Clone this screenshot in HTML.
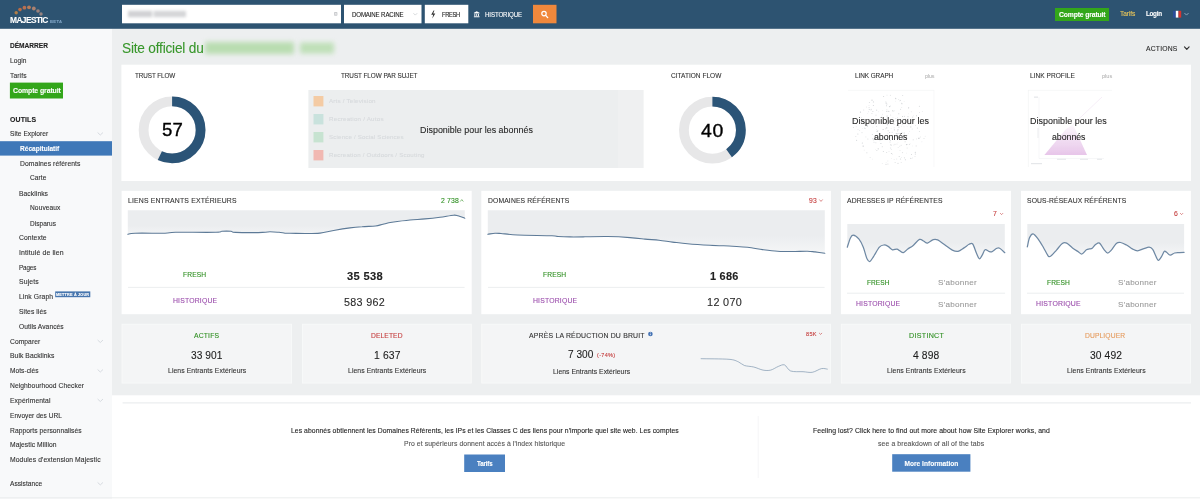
<!DOCTYPE html>
<html lang="fr"><head><meta charset="utf-8"><title>Majestic - Site Explorer</title>
<style>
html,body{margin:0;padding:0}
body{width:1200px;height:499px;overflow:hidden;position:relative;background:#fff;font-family:"Liberation Sans", sans-serif;}
.t{position:absolute;white-space:pre;transform-origin:0 50%;-webkit-text-stroke:0.1px currentColor}
#tx{position:absolute;left:0;top:0;width:1200px;height:499px;will-change:transform}
.b{position:absolute}
svg{position:absolute;left:0;top:0}
</style></head><body>
<svg width="1200" height="499" viewBox="0 0 1200 499"><defs><filter id="bl" x="-20%" y="-100%" width="140%" height="300%"><feGaussianBlur stdDeviation="2.4"/></filter><filter id="bl2" x="-20%" y="-100%" width="140%" height="300%"><feGaussianBlur stdDeviation="1.7"/></filter><filter id="bl3"><feGaussianBlur stdDeviation="0.5"/></filter></defs><rect x="0" y="0" width="1200.00" height="499.00" fill="#fff" /><rect x="112" y="28.5" width="1088.00" height="366.80" fill="#edeff0" /><rect x="0" y="28.5" width="112.00" height="470.50" fill="#f8f9fa" /><rect x="0" y="0" width="1200.00" height="28.80" fill="#2d5371" /><rect x="122" y="4.8" width="219.00" height="18.50" fill="#fff" /><rect x="344" y="4.8" width="77.50" height="18.50" fill="#fff" /><rect x="424.8" y="4.8" width="43.50" height="18.50" fill="#fff" /><rect x="533" y="4.8" width="23.50" height="18.50" fill="#f0883c" /><g filter="url(#bl2)" opacity="0.42"><rect x="128" y="10.8" width="24.00" height="6.40" fill="#8f9197" /><rect x="153.5" y="10.8" width="32.50" height="6.40" fill="#9a9ca2" /></g><rect x="334" y="12" width="3.4" height="3.8" rx="0.8" fill="#c9cbce"/><path d="M334.9,13 l1.6,1.8 m0,-1.8 l-1.6,1.8" stroke="#fff" stroke-width="0.5" fill="none"/><path d="M413.70,13.50 L415.30,15.10 L416.90,13.50" fill="none" stroke="#c4c8cc" stroke-width="0.7" stroke-linecap="round" stroke-linejoin="round"/><path d="M433.6,10.6 l-2.4,4.2 h2 l-0.9,3.6 3,-4.8 h-2.1 l1.2,-3 z" fill="#333"/><path d="M476.7,11.2 l2.8,1.6 v0.6 h-5.6 v-0.6 z M474.4,13.9 h0.9 v2 h-0.9z M476.25,13.9 h0.9 v2 h-0.9z M478.1,13.9 h0.9 v2 h-0.9z M473.9,16.3 h5.6 v0.9 h-5.6z" fill="#fff"/><circle cx="544" cy="13.6" r="2.2" fill="none" stroke="#fff" stroke-width="1.2"/><path d="M545.7,15.4 l2,2.2" stroke="#fff" stroke-width="1.4" stroke-linecap="round"/><rect x="1055" y="8" width="54.00" height="13.00" fill="#33a61a" /><rect x="1173" y="10.8" width="2.80" height="6.80" fill="#2b4c9a" /><rect x="1175.8" y="10.8" width="2.70" height="6.80" fill="#fff" /><rect x="1178.5" y="10.8" width="2.70" height="6.80" fill="#d8352f" /><path d="M1184.70,13.30 L1186.50,15.10 L1188.30,13.30" fill="none" stroke="#9fb6cc" stroke-width="0.8" stroke-linecap="round" stroke-linejoin="round"/><circle cx="16.2" cy="12.8" r="1.7" fill="#c9853f" opacity="0.85"/><circle cx="20" cy="9.6" r="1.8" fill="#d2703c" opacity="0.85"/><circle cx="24.4" cy="7.7" r="1.9" fill="#d2744a" opacity="0.85"/><circle cx="29" cy="7.3" r="1.9" fill="#d08255" opacity="0.85"/><circle cx="33.8" cy="8.5" r="1.9" fill="#c28a70" opacity="0.85"/><circle cx="38" cy="11" r="1.8" fill="#b08a7c" opacity="0.85"/><circle cx="41" cy="14" r="1.7" fill="#a98c84" opacity="0.85"/><rect x="9.9" y="82.6" width="53.10" height="15.90" fill="#33a61a" /><rect x="0" y="141.2" width="112.00" height="14.40" fill="#3f78b8" /><rect x="55.2" y="291.4" width="35.10" height="5.80" fill="#4776ae" /><path d="M97.90,132.80 L100.30,135.00 L102.70,132.80" fill="none" stroke="#d3d7dc" stroke-width="0.9" stroke-linecap="round" stroke-linejoin="round"/><path d="M97.90,340.30 L100.30,342.50 L102.70,340.30" fill="none" stroke="#d3d7dc" stroke-width="0.9" stroke-linecap="round" stroke-linejoin="round"/><path d="M97.90,369.80 L100.30,372.00 L102.70,369.80" fill="none" stroke="#d3d7dc" stroke-width="0.9" stroke-linecap="round" stroke-linejoin="round"/><path d="M97.90,399.30 L100.30,401.50 L102.70,399.30" fill="none" stroke="#d3d7dc" stroke-width="0.9" stroke-linecap="round" stroke-linejoin="round"/><path d="M97.90,482.70 L100.30,484.90 L102.70,482.70" fill="none" stroke="#d3d7dc" stroke-width="0.9" stroke-linecap="round" stroke-linejoin="round"/><g filter="url(#bl)" opacity="0.55"><rect x="205" y="42" width="89.00" height="12.00" fill="#8fce7d" /><rect x="300" y="42.5" width="34.00" height="11.00" fill="#9ad38a" /></g><path d="M1184.50,46.85 L1186.80,49.35 L1189.10,46.85" fill="none" stroke="#333" stroke-width="1.2" stroke-linecap="round" stroke-linejoin="round"/><rect x="121.4" y="64.7" width="1069.60" height="116.30" fill="#fff" /><circle cx="172.1" cy="129.9" r="28.5" fill="none" stroke="#e7e7e8" stroke-width="9.8"/><circle cx="172.1" cy="129.9" r="28.5" fill="none" stroke="#2b5477" stroke-width="9.8" stroke-dasharray="102.07 179.07" transform="rotate(-90 172.1 129.9)"/><circle cx="712.4" cy="130.1" r="28.5" fill="none" stroke="#e7e7e8" stroke-width="9.8"/><circle cx="712.4" cy="130.1" r="28.5" fill="none" stroke="#2b5477" stroke-width="9.8" stroke-dasharray="71.63 179.07" transform="rotate(-90 712.4 130.1)"/><rect x="308.4" y="90" width="309.60" height="78.00" fill="#eceeef" /><rect x="618" y="90" width="25.60" height="78.00" fill="#eff0f1" /><rect x="313.5" y="96" width="9.90" height="10.40" fill="#f4cba4" /><rect x="313.5" y="114" width="9.90" height="10.40" fill="#c9e2dd" /><rect x="313.5" y="132" width="9.90" height="10.40" fill="#c7e3d1" /><rect x="313.5" y="150" width="9.90" height="10.40" fill="#f1b8b2" /><circle cx="885.6" cy="139.3" r="0.6" fill="#9aa0a6" opacity="0.26"/><circle cx="895.0" cy="121.1" r="0.6" fill="#9aa0a6" opacity="0.27"/><circle cx="885.7" cy="128.8" r="0.5" fill="#9aa0a6" opacity="0.38"/><circle cx="892.6" cy="154.1" r="0.4" fill="#9aa0a6" opacity="0.50"/><circle cx="902.0" cy="139.3" r="0.6" fill="#9aa0a6" opacity="0.42"/><circle cx="916.4" cy="138.9" r="0.4" fill="#9aa0a6" opacity="0.54"/><circle cx="924.0" cy="138.5" r="0.5" fill="#9aa0a6" opacity="0.38"/><circle cx="864.9" cy="122.5" r="0.6" fill="#9aa0a6" opacity="0.49"/><circle cx="902.5" cy="152.6" r="0.6" fill="#9aa0a6" opacity="0.31"/><circle cx="916.2" cy="145.9" r="0.6" fill="#9aa0a6" opacity="0.27"/><circle cx="899.2" cy="156.5" r="0.5" fill="#9aa0a6" opacity="0.48"/><circle cx="855.8" cy="136.4" r="0.5" fill="#9aa0a6" opacity="0.34"/><circle cx="899.4" cy="101.1" r="0.4" fill="#9aa0a6" opacity="0.27"/><circle cx="883.3" cy="151.4" r="0.5" fill="#9aa0a6" opacity="0.47"/><circle cx="882.2" cy="163.6" r="0.4" fill="#9aa0a6" opacity="0.40"/><circle cx="901.1" cy="145.3" r="0.5" fill="#9aa0a6" opacity="0.38"/><circle cx="898.9" cy="127.2" r="0.6" fill="#9aa0a6" opacity="0.42"/><circle cx="904.4" cy="116.3" r="0.6" fill="#9aa0a6" opacity="0.36"/><circle cx="858.0" cy="129.7" r="0.4" fill="#9aa0a6" opacity="0.50"/><circle cx="913.7" cy="121.2" r="0.6" fill="#9aa0a6" opacity="0.27"/><circle cx="888.8" cy="111.3" r="0.6" fill="#9aa0a6" opacity="0.55"/><circle cx="898.8" cy="113.8" r="0.5" fill="#9aa0a6" opacity="0.52"/><circle cx="870.1" cy="157.5" r="0.5" fill="#9aa0a6" opacity="0.30"/><circle cx="896.1" cy="133.4" r="0.5" fill="#9aa0a6" opacity="0.29"/><circle cx="891.3" cy="149.5" r="0.5" fill="#9aa0a6" opacity="0.27"/><circle cx="865.9" cy="136.9" r="0.4" fill="#9aa0a6" opacity="0.50"/><circle cx="902.5" cy="116.4" r="0.5" fill="#9aa0a6" opacity="0.55"/><circle cx="882.3" cy="110.6" r="0.4" fill="#9aa0a6" opacity="0.30"/><circle cx="898.0" cy="142.4" r="0.4" fill="#9aa0a6" opacity="0.25"/><circle cx="897.6" cy="117.7" r="0.5" fill="#9aa0a6" opacity="0.25"/><circle cx="872.8" cy="138.7" r="0.6" fill="#9aa0a6" opacity="0.35"/><circle cx="915.3" cy="152.3" r="0.6" fill="#9aa0a6" opacity="0.45"/><circle cx="889.5" cy="106.6" r="0.6" fill="#9aa0a6" opacity="0.49"/><circle cx="874.0" cy="142.0" r="0.4" fill="#9aa0a6" opacity="0.39"/><circle cx="879.7" cy="136.8" r="0.4" fill="#9aa0a6" opacity="0.38"/><circle cx="912.5" cy="145.9" r="0.4" fill="#9aa0a6" opacity="0.25"/><circle cx="896.6" cy="136.4" r="0.5" fill="#9aa0a6" opacity="0.43"/><circle cx="904.3" cy="135.0" r="0.5" fill="#9aa0a6" opacity="0.29"/><circle cx="890.7" cy="148.1" r="0.5" fill="#9aa0a6" opacity="0.39"/><circle cx="909.4" cy="144.5" r="0.5" fill="#9aa0a6" opacity="0.39"/><circle cx="886.5" cy="139.4" r="0.6" fill="#9aa0a6" opacity="0.35"/><circle cx="887.9" cy="161.0" r="0.4" fill="#9aa0a6" opacity="0.40"/><circle cx="901.2" cy="162.6" r="0.5" fill="#9aa0a6" opacity="0.29"/><circle cx="886.8" cy="127.9" r="0.6" fill="#9aa0a6" opacity="0.34"/><circle cx="885.4" cy="122.3" r="0.5" fill="#9aa0a6" opacity="0.41"/><circle cx="908.0" cy="118.4" r="0.4" fill="#9aa0a6" opacity="0.41"/><circle cx="894.5" cy="110.8" r="0.4" fill="#9aa0a6" opacity="0.43"/><circle cx="898.7" cy="99.4" r="0.4" fill="#9aa0a6" opacity="0.49"/><circle cx="904.1" cy="101.7" r="0.4" fill="#9aa0a6" opacity="0.31"/><circle cx="859.7" cy="130.4" r="0.4" fill="#9aa0a6" opacity="0.49"/><circle cx="877.1" cy="131.3" r="0.6" fill="#9aa0a6" opacity="0.54"/><circle cx="856.6" cy="140.3" r="0.5" fill="#9aa0a6" opacity="0.54"/><circle cx="880.9" cy="139.9" r="0.4" fill="#9aa0a6" opacity="0.39"/><circle cx="878.2" cy="148.8" r="0.6" fill="#9aa0a6" opacity="0.50"/><circle cx="862.0" cy="132.6" r="0.6" fill="#9aa0a6" opacity="0.28"/><circle cx="872.0" cy="100.2" r="0.6" fill="#9aa0a6" opacity="0.48"/><circle cx="877.7" cy="130.8" r="0.6" fill="#9aa0a6" opacity="0.35"/><circle cx="902.7" cy="95.4" r="0.5" fill="#9aa0a6" opacity="0.39"/><circle cx="890.6" cy="120.8" r="0.4" fill="#9aa0a6" opacity="0.30"/><circle cx="899.5" cy="137.3" r="0.5" fill="#9aa0a6" opacity="0.49"/><circle cx="911.5" cy="154.5" r="0.5" fill="#9aa0a6" opacity="0.45"/><circle cx="875.4" cy="149.3" r="0.4" fill="#9aa0a6" opacity="0.26"/><circle cx="900.5" cy="100.7" r="0.4" fill="#9aa0a6" opacity="0.41"/><circle cx="911.9" cy="120.2" r="0.4" fill="#9aa0a6" opacity="0.50"/><circle cx="895.0" cy="144.3" r="0.5" fill="#9aa0a6" opacity="0.40"/><circle cx="892.7" cy="110.7" r="0.6" fill="#9aa0a6" opacity="0.38"/><circle cx="915.3" cy="154.0" r="0.5" fill="#9aa0a6" opacity="0.52"/><circle cx="873.5" cy="101.9" r="0.6" fill="#9aa0a6" opacity="0.38"/><circle cx="912.7" cy="117.2" r="0.6" fill="#9aa0a6" opacity="0.30"/><circle cx="856.2" cy="126.8" r="0.4" fill="#9aa0a6" opacity="0.43"/><circle cx="893.0" cy="117.6" r="0.4" fill="#9aa0a6" opacity="0.39"/><circle cx="886.9" cy="104.0" r="0.5" fill="#9aa0a6" opacity="0.45"/><circle cx="867.0" cy="124.5" r="0.4" fill="#9aa0a6" opacity="0.51"/><circle cx="904.1" cy="133.7" r="0.4" fill="#9aa0a6" opacity="0.48"/><circle cx="864.3" cy="127.8" r="0.4" fill="#9aa0a6" opacity="0.38"/><circle cx="871.9" cy="113.5" r="0.6" fill="#9aa0a6" opacity="0.31"/><circle cx="886.7" cy="152.6" r="0.5" fill="#9aa0a6" opacity="0.40"/><circle cx="891.4" cy="153.4" r="0.5" fill="#9aa0a6" opacity="0.53"/><circle cx="902.3" cy="120.4" r="0.5" fill="#9aa0a6" opacity="0.29"/><circle cx="907.7" cy="144.3" r="0.4" fill="#9aa0a6" opacity="0.45"/><circle cx="877.6" cy="135.2" r="0.5" fill="#9aa0a6" opacity="0.49"/><circle cx="900.8" cy="121.9" r="0.6" fill="#9aa0a6" opacity="0.44"/><circle cx="879.9" cy="140.8" r="0.4" fill="#9aa0a6" opacity="0.54"/><circle cx="898.0" cy="163.3" r="0.5" fill="#9aa0a6" opacity="0.52"/><circle cx="906.5" cy="153.1" r="0.4" fill="#9aa0a6" opacity="0.30"/><circle cx="867.9" cy="139.1" r="0.5" fill="#9aa0a6" opacity="0.38"/><circle cx="885.4" cy="135.8" r="0.5" fill="#9aa0a6" opacity="0.26"/><circle cx="869.2" cy="121.7" r="0.4" fill="#9aa0a6" opacity="0.37"/><circle cx="872.9" cy="127.1" r="0.4" fill="#9aa0a6" opacity="0.28"/><circle cx="904.6" cy="121.7" r="0.4" fill="#9aa0a6" opacity="0.28"/><circle cx="886.1" cy="162.6" r="0.4" fill="#9aa0a6" opacity="0.33"/><circle cx="906.5" cy="144.6" r="0.6" fill="#9aa0a6" opacity="0.50"/><circle cx="890.3" cy="140.5" r="0.6" fill="#9aa0a6" opacity="0.42"/><circle cx="888.3" cy="120.9" r="0.4" fill="#9aa0a6" opacity="0.49"/><circle cx="905.4" cy="159.8" r="0.5" fill="#9aa0a6" opacity="0.53"/><circle cx="869.0" cy="105.4" r="0.4" fill="#9aa0a6" opacity="0.43"/><circle cx="893.9" cy="145.0" r="0.4" fill="#9aa0a6" opacity="0.39"/><circle cx="876.9" cy="150.4" r="0.5" fill="#9aa0a6" opacity="0.44"/><circle cx="920.6" cy="136.9" r="0.4" fill="#9aa0a6" opacity="0.54"/><circle cx="890.0" cy="141.9" r="0.5" fill="#9aa0a6" opacity="0.44"/><circle cx="876.6" cy="126.3" r="0.5" fill="#9aa0a6" opacity="0.40"/><circle cx="899.8" cy="146.2" r="0.4" fill="#9aa0a6" opacity="0.55"/><circle cx="894.4" cy="129.8" r="0.6" fill="#9aa0a6" opacity="0.42"/><circle cx="900.0" cy="150.4" r="0.5" fill="#9aa0a6" opacity="0.28"/><circle cx="900.6" cy="109.2" r="0.5" fill="#9aa0a6" opacity="0.41"/><circle cx="919.4" cy="106.2" r="0.5" fill="#9aa0a6" opacity="0.46"/><circle cx="910.8" cy="126.9" r="0.6" fill="#9aa0a6" opacity="0.47"/><circle cx="915.0" cy="156.5" r="0.4" fill="#9aa0a6" opacity="0.50"/><circle cx="919.4" cy="131.4" r="0.5" fill="#9aa0a6" opacity="0.38"/><circle cx="918.8" cy="138.6" r="0.5" fill="#9aa0a6" opacity="0.51"/><circle cx="882.5" cy="114.2" r="0.4" fill="#9aa0a6" opacity="0.46"/><circle cx="904.2" cy="132.7" r="0.5" fill="#9aa0a6" opacity="0.38"/><circle cx="887.9" cy="164.0" r="0.6" fill="#9aa0a6" opacity="0.35"/><circle cx="925.2" cy="136.2" r="0.4" fill="#9aa0a6" opacity="0.36"/><circle cx="912.2" cy="129.1" r="0.5" fill="#9aa0a6" opacity="0.33"/><circle cx="881.9" cy="116.0" r="0.4" fill="#9aa0a6" opacity="0.28"/><circle cx="895.8" cy="118.7" r="0.6" fill="#9aa0a6" opacity="0.26"/><circle cx="909.3" cy="131.5" r="0.4" fill="#9aa0a6" opacity="0.28"/><circle cx="924.2" cy="120.4" r="0.4" fill="#9aa0a6" opacity="0.45"/><circle cx="883.6" cy="96.4" r="0.5" fill="#9aa0a6" opacity="0.48"/><circle cx="886.5" cy="105.8" r="0.5" fill="#9aa0a6" opacity="0.47"/><circle cx="887.4" cy="124.7" r="0.6" fill="#9aa0a6" opacity="0.52"/><circle cx="869.1" cy="107.6" r="0.6" fill="#9aa0a6" opacity="0.29"/><circle cx="866.2" cy="125.4" r="0.4" fill="#9aa0a6" opacity="0.50"/><circle cx="860.5" cy="112.1" r="0.6" fill="#9aa0a6" opacity="0.54"/><circle cx="885.6" cy="122.6" r="0.4" fill="#9aa0a6" opacity="0.29"/><circle cx="884.7" cy="136.1" r="0.5" fill="#9aa0a6" opacity="0.42"/><circle cx="871.2" cy="109.4" r="0.6" fill="#9aa0a6" opacity="0.32"/><circle cx="889.0" cy="151.4" r="0.4" fill="#9aa0a6" opacity="0.47"/><circle cx="865.0" cy="128.5" r="0.6" fill="#9aa0a6" opacity="0.41"/><circle cx="890.4" cy="106.0" r="0.4" fill="#9aa0a6" opacity="0.50"/><circle cx="894.1" cy="159.3" r="0.4" fill="#9aa0a6" opacity="0.47"/><circle cx="915.5" cy="125.4" r="0.5" fill="#9aa0a6" opacity="0.27"/><circle cx="906.1" cy="119.9" r="0.4" fill="#9aa0a6" opacity="0.44"/><circle cx="885.9" cy="122.9" r="0.4" fill="#9aa0a6" opacity="0.35"/><circle cx="873.4" cy="105.5" r="0.6" fill="#9aa0a6" opacity="0.42"/><circle cx="898.0" cy="129.5" r="0.5" fill="#9aa0a6" opacity="0.54"/><circle cx="903.3" cy="137.4" r="0.5" fill="#9aa0a6" opacity="0.34"/><circle cx="867.3" cy="126.6" r="0.5" fill="#9aa0a6" opacity="0.48"/><circle cx="917.4" cy="127.9" r="0.5" fill="#9aa0a6" opacity="0.54"/><circle cx="894.1" cy="127.8" r="0.5" fill="#9aa0a6" opacity="0.27"/><circle cx="853.4" cy="127.5" r="0.5" fill="#9aa0a6" opacity="0.37"/><circle cx="922.3" cy="111.7" r="0.4" fill="#9aa0a6" opacity="0.42"/><circle cx="907.1" cy="148.0" r="0.5" fill="#9aa0a6" opacity="0.29"/><circle cx="901.8" cy="107.3" r="0.4" fill="#9aa0a6" opacity="0.46"/><circle cx="895.1" cy="162.5" r="0.5" fill="#9aa0a6" opacity="0.37"/><circle cx="910.8" cy="158.4" r="0.6" fill="#9aa0a6" opacity="0.39"/><circle cx="887.3" cy="139.5" r="0.5" fill="#9aa0a6" opacity="0.36"/><circle cx="905.1" cy="141.8" r="0.5" fill="#9aa0a6" opacity="0.48"/><circle cx="896.6" cy="120.5" r="0.4" fill="#9aa0a6" opacity="0.46"/><circle cx="905.6" cy="119.1" r="0.5" fill="#9aa0a6" opacity="0.27"/><circle cx="864.2" cy="150.1" r="0.4" fill="#9aa0a6" opacity="0.36"/><circle cx="875.3" cy="136.3" r="0.4" fill="#9aa0a6" opacity="0.33"/><circle cx="919.0" cy="138.0" r="0.6" fill="#9aa0a6" opacity="0.53"/><circle cx="891.1" cy="145.3" r="0.6" fill="#9aa0a6" opacity="0.34"/><circle cx="895.7" cy="98.2" r="0.5" fill="#9aa0a6" opacity="0.52"/><circle cx="901.9" cy="103.7" r="0.6" fill="#9aa0a6" opacity="0.41"/><circle cx="889.8" cy="123.2" r="0.6" fill="#9aa0a6" opacity="0.37"/><circle cx="882.3" cy="121.7" r="0.5" fill="#9aa0a6" opacity="0.40"/><circle cx="913.5" cy="115.8" r="0.4" fill="#9aa0a6" opacity="0.39"/><circle cx="880.9" cy="143.5" r="0.6" fill="#9aa0a6" opacity="0.47"/><circle cx="878.4" cy="111.8" r="0.4" fill="#9aa0a6" opacity="0.34"/><circle cx="870.8" cy="121.7" r="0.4" fill="#9aa0a6" opacity="0.44"/><circle cx="913.2" cy="139.8" r="0.5" fill="#9aa0a6" opacity="0.42"/><circle cx="872.3" cy="134.4" r="0.5" fill="#9aa0a6" opacity="0.38"/><circle cx="875.5" cy="124.4" r="0.4" fill="#9aa0a6" opacity="0.35"/><circle cx="904.5" cy="137.3" r="0.5" fill="#9aa0a6" opacity="0.49"/><circle cx="892.1" cy="132.3" r="0.5" fill="#9aa0a6" opacity="0.36"/><circle cx="890.6" cy="114.9" r="0.5" fill="#9aa0a6" opacity="0.35"/><circle cx="907.2" cy="135.3" r="0.5" fill="#9aa0a6" opacity="0.29"/><circle cx="862.4" cy="128.4" r="0.4" fill="#9aa0a6" opacity="0.28"/><circle cx="908.0" cy="116.7" r="0.6" fill="#9aa0a6" opacity="0.38"/><circle cx="923.8" cy="119.7" r="0.4" fill="#9aa0a6" opacity="0.29"/><circle cx="862.3" cy="142.9" r="0.5" fill="#9aa0a6" opacity="0.54"/><circle cx="883.1" cy="129.5" r="0.6" fill="#9aa0a6" opacity="0.51"/><circle cx="907.1" cy="126.3" r="0.4" fill="#9aa0a6" opacity="0.32"/><circle cx="912.4" cy="157.9" r="0.4" fill="#9aa0a6" opacity="0.53"/><circle cx="885.9" cy="101.7" r="0.5" fill="#9aa0a6" opacity="0.28"/><circle cx="891.1" cy="128.3" r="0.4" fill="#9aa0a6" opacity="0.32"/><circle cx="916.5" cy="115.7" r="0.5" fill="#9aa0a6" opacity="0.54"/><circle cx="872.9" cy="111.5" r="0.5" fill="#9aa0a6" opacity="0.46"/><circle cx="896.9" cy="133.7" r="0.6" fill="#9aa0a6" opacity="0.53"/><circle cx="897.0" cy="144.0" r="0.6" fill="#9aa0a6" opacity="0.25"/><circle cx="854.3" cy="120.6" r="0.5" fill="#9aa0a6" opacity="0.54"/><circle cx="869.4" cy="102.6" r="0.5" fill="#9aa0a6" opacity="0.41"/><circle cx="886.7" cy="127.7" r="0.5" fill="#9aa0a6" opacity="0.46"/><circle cx="889.7" cy="132.4" r="0.5" fill="#9aa0a6" opacity="0.52"/><circle cx="886.0" cy="122.6" r="0.4" fill="#9aa0a6" opacity="0.45"/><circle cx="904.8" cy="122.3" r="0.4" fill="#9aa0a6" opacity="0.46"/><circle cx="886.9" cy="109.8" r="0.5" fill="#9aa0a6" opacity="0.31"/><circle cx="900.2" cy="100.3" r="0.6" fill="#9aa0a6" opacity="0.27"/><circle cx="876.6" cy="129.4" r="0.4" fill="#9aa0a6" opacity="0.32"/><circle cx="896.7" cy="159.1" r="0.5" fill="#9aa0a6" opacity="0.28"/><circle cx="871.0" cy="110.2" r="0.4" fill="#9aa0a6" opacity="0.40"/><circle cx="896.7" cy="125.6" r="0.6" fill="#9aa0a6" opacity="0.29"/><circle cx="879.3" cy="137.8" r="0.6" fill="#9aa0a6" opacity="0.29"/><circle cx="897.6" cy="131.1" r="0.5" fill="#9aa0a6" opacity="0.38"/><circle cx="886.5" cy="111.5" r="0.4" fill="#9aa0a6" opacity="0.55"/><circle cx="908.6" cy="121.3" r="0.4" fill="#9aa0a6" opacity="0.45"/><circle cx="867.3" cy="125.5" r="0.5" fill="#9aa0a6" opacity="0.45"/><circle cx="875.9" cy="142.8" r="0.5" fill="#9aa0a6" opacity="0.38"/><circle cx="897.3" cy="133.9" r="0.4" fill="#9aa0a6" opacity="0.36"/><circle cx="901.4" cy="126.2" r="0.4" fill="#9aa0a6" opacity="0.36"/><circle cx="893.2" cy="111.3" r="0.5" fill="#9aa0a6" opacity="0.28"/><circle cx="887.1" cy="116.0" r="0.6" fill="#9aa0a6" opacity="0.53"/><circle cx="898.2" cy="147.4" r="0.5" fill="#9aa0a6" opacity="0.26"/><circle cx="862.7" cy="145.9" r="0.5" fill="#9aa0a6" opacity="0.26"/><circle cx="898.0" cy="130.5" r="0.4" fill="#9aa0a6" opacity="0.33"/><circle cx="890.4" cy="95.2" r="0.5" fill="#9aa0a6" opacity="0.36"/><circle cx="872.3" cy="159.1" r="0.4" fill="#9aa0a6" opacity="0.33"/><circle cx="887.1" cy="111.3" r="0.5" fill="#9aa0a6" opacity="0.34"/><circle cx="886.1" cy="103.0" r="0.6" fill="#9aa0a6" opacity="0.53"/><circle cx="921.9" cy="141.8" r="0.4" fill="#9aa0a6" opacity="0.39"/><circle cx="926.4" cy="119.6" r="0.5" fill="#9aa0a6" opacity="0.49"/><circle cx="919.6" cy="112.5" r="0.4" fill="#9aa0a6" opacity="0.53"/><circle cx="904.5" cy="157.8" r="0.6" fill="#9aa0a6" opacity="0.34"/><circle cx="886.7" cy="118.2" r="0.4" fill="#9aa0a6" opacity="0.35"/><circle cx="882.3" cy="146.7" r="0.6" fill="#9aa0a6" opacity="0.27"/><circle cx="901.4" cy="157.7" r="0.4" fill="#9aa0a6" opacity="0.37"/><circle cx="876.6" cy="110.2" r="0.6" fill="#9aa0a6" opacity="0.35"/><circle cx="925.8" cy="124.9" r="0.4" fill="#9aa0a6" opacity="0.33"/><circle cx="899.0" cy="133.5" r="0.5" fill="#9aa0a6" opacity="0.55"/><circle cx="904.0" cy="126.8" r="0.4" fill="#9aa0a6" opacity="0.38"/><circle cx="869.3" cy="109.5" r="0.6" fill="#9aa0a6" opacity="0.41"/><circle cx="895.8" cy="98.8" r="0.5" fill="#9aa0a6" opacity="0.34"/><circle cx="871.9" cy="120.9" r="0.6" fill="#9aa0a6" opacity="0.33"/><circle cx="878.2" cy="133.9" r="0.4" fill="#9aa0a6" opacity="0.30"/><circle cx="911.3" cy="111.8" r="0.5" fill="#9aa0a6" opacity="0.27"/><circle cx="890.8" cy="144.5" r="0.6" fill="#9aa0a6" opacity="0.32"/><circle cx="901.5" cy="103.0" r="0.4" fill="#9aa0a6" opacity="0.28"/><circle cx="857.9" cy="134.0" r="0.5" fill="#9aa0a6" opacity="0.52"/><circle cx="908.5" cy="133.3" r="0.4" fill="#9aa0a6" opacity="0.27"/><circle cx="863.8" cy="110.0" r="0.4" fill="#9aa0a6" opacity="0.53"/><circle cx="866.9" cy="152.8" r="0.5" fill="#9aa0a6" opacity="0.43"/><circle cx="895.6" cy="101.2" r="0.4" fill="#9aa0a6" opacity="0.28"/><circle cx="867.6" cy="113.7" r="0.4" fill="#9aa0a6" opacity="0.26"/><circle cx="887.9" cy="133.7" r="0.5" fill="#9aa0a6" opacity="0.26"/><circle cx="887.0" cy="95.1" r="0.4" fill="#9aa0a6" opacity="0.50"/><circle cx="873.4" cy="139.8" r="0.6" fill="#9aa0a6" opacity="0.34"/><circle cx="900.5" cy="159.0" r="0.6" fill="#9aa0a6" opacity="0.40"/><circle cx="863.4" cy="146.1" r="0.6" fill="#9aa0a6" opacity="0.42"/><circle cx="885.2" cy="122.4" r="0.4" fill="#9aa0a6" opacity="0.37"/><circle cx="886.0" cy="164.4" r="0.6" fill="#9aa0a6" opacity="0.34"/><circle cx="909.0" cy="123.8" r="0.6" fill="#9aa0a6" opacity="0.52"/><circle cx="888.1" cy="130.7" r="0.5" fill="#9aa0a6" opacity="0.44"/><circle cx="874.0" cy="142.3" r="0.4" fill="#9aa0a6" opacity="0.38"/><circle cx="896.7" cy="137.1" r="0.4" fill="#9aa0a6" opacity="0.37"/><circle cx="908.6" cy="113.8" r="0.4" fill="#9aa0a6" opacity="0.29"/><circle cx="902.1" cy="132.6" r="0.5" fill="#9aa0a6" opacity="0.28"/><circle cx="876.0" cy="115.2" r="0.6" fill="#9aa0a6" opacity="0.30"/><circle cx="883.7" cy="138.9" r="0.4" fill="#9aa0a6" opacity="0.53"/><circle cx="910.1" cy="143.8" r="0.4" fill="#9aa0a6" opacity="0.34"/><circle cx="894.0" cy="124.3" r="0.5" fill="#9aa0a6" opacity="0.34"/><circle cx="868.5" cy="111.8" r="0.4" fill="#9aa0a6" opacity="0.52"/><circle cx="866.5" cy="107.0" r="0.4" fill="#9aa0a6" opacity="0.44"/><circle cx="908.6" cy="107.8" r="0.6" fill="#9aa0a6" opacity="0.50"/><circle cx="897.5" cy="117.6" r="0.4" fill="#9aa0a6" opacity="0.26"/><circle cx="902.5" cy="124.5" r="0.5" fill="#9aa0a6" opacity="0.29"/><circle cx="891.6" cy="158.7" r="0.4" fill="#9aa0a6" opacity="0.26"/><circle cx="861.4" cy="117.4" r="0.4" fill="#9aa0a6" opacity="0.45"/><path d="M848,90.3 H934" stroke="#f0f1f2" stroke-width="0.6"/><path d="M934,90 V167" stroke="#f3f4f5" stroke-width="0.6"/><path d="M1028,90.3 H1112" stroke="#f0f1f2" stroke-width="0.6"/><path d="M1028.4,90 V167" stroke="#f0f1f2" stroke-width="0.6"/><defs><linearGradient id="pg" x1="0" y1="1" x2="0" y2="0"><stop offset="0" stop-color="#e6c2e8" stop-opacity="0.95"/><stop offset="0.55" stop-color="#ecd2ee" stop-opacity="0.7"/><stop offset="1" stop-color="#f3e3f4" stop-opacity="0.25"/></linearGradient></defs><g filter="url(#bl3)"><path d="M1044.4,155 L1066,129 L1073,124.5 L1087,155 Z" fill="url(#pg)"/></g><path d="M1073,124.5 L1102,97" stroke="#f4eaf5" stroke-width="0.8"/><path d="M1039,97 V158.5 H1104" fill="none" stroke="#eceef0" stroke-width="0.5"/><g fill="#dfe2e5" opacity="0.8"><rect x="1034" y="96.5" width="4.00" height="1.30" fill="#dfe2e5" /><rect x="1057" y="158.8" width="9.00" height="1.00" fill="#dfe2e5" /><rect x="1080" y="158.8" width="8.00" height="1.00" fill="#dfe2e5" /><rect x="1097" y="158.8" width="5.00" height="1.00" fill="#dfe2e5" /><rect x="1031" y="163" width="11.00" height="1.20" fill="#dfe2e5" /><rect x="1037.5" y="128" width="1.00" height="10.00" fill="#e6e8ea" /></g><rect x="121.6" y="190.8" width="350.10" height="123.40" fill="#fff" /><rect x="481.3" y="190.8" width="349.60" height="123.40" fill="#fff" /><rect x="840.9" y="190.8" width="170.10" height="123.40" fill="#fff" /><rect x="1021" y="190.8" width="169.90" height="123.40" fill="#fff" /><defs><linearGradient id="ag1" gradientUnits="userSpaceOnUse" x1="0" y1="210.2" x2="0" y2="238"><stop offset="0" stop-color="#ebedef"/><stop offset="0.55" stop-color="#ebedef"/><stop offset="1" stop-color="#f6f7f8"/></linearGradient></defs><path d="M127.8,234.2 C129.0,234.1 129.0,233.4 135.0,233.2 C141.0,233.0 158.5,233.3 165.0,233.2 C171.5,233.1 167.3,232.4 175.5,232.3 C183.7,232.2 208.6,232.5 216.0,232.3 C223.4,232.1 219.6,231.4 222.0,231.2 C224.4,231.1 228.8,231.1 231.0,231.2 C233.2,231.4 230.5,232.3 235.5,232.4 C240.5,232.6 257.0,232.6 262.5,232.4 C268.0,232.3 267.4,231.7 270.0,231.7 C272.6,231.7 276.6,232.1 279.0,232.3 C281.4,232.5 283.2,233.0 285.0,233.2 C286.8,233.4 286.8,233.3 290.0,233.3 C293.2,233.3 300.2,233.5 305.0,233.5 C309.8,233.5 315.2,233.6 320.0,233.1 C324.8,232.5 330.2,231.0 335.0,230.2 C339.8,229.4 345.7,228.5 350.0,227.9 C354.3,227.4 357.9,227.1 362.0,226.8 C366.1,226.4 372.1,226.4 375.5,226.0 C378.9,225.6 380.4,224.8 383.0,224.2 C385.6,223.6 387.7,222.9 392.0,222.2 C396.3,221.6 404.7,220.5 410.0,220.0 C415.3,219.5 420.2,219.4 425.0,218.9 C429.8,218.5 435.4,217.9 440.0,217.3 C444.6,216.7 450.6,215.4 453.5,215.2 C456.4,215.0 456.2,215.3 458.0,215.8 C459.8,216.3 463.7,217.8 464.8,218.2 L464.8,210.2 L127.8,210.2 Z" fill="url(#ag1)"/><path d="M127.8,234.2 C129.0,234.1 129.0,233.4 135.0,233.2 C141.0,233.0 158.5,233.3 165.0,233.2 C171.5,233.1 167.3,232.4 175.5,232.3 C183.7,232.2 208.6,232.5 216.0,232.3 C223.4,232.1 219.6,231.4 222.0,231.2 C224.4,231.1 228.8,231.1 231.0,231.2 C233.2,231.4 230.5,232.3 235.5,232.4 C240.5,232.6 257.0,232.6 262.5,232.4 C268.0,232.3 267.4,231.7 270.0,231.7 C272.6,231.7 276.6,232.1 279.0,232.3 C281.4,232.5 283.2,233.0 285.0,233.2 C286.8,233.4 286.8,233.3 290.0,233.3 C293.2,233.3 300.2,233.5 305.0,233.5 C309.8,233.5 315.2,233.6 320.0,233.1 C324.8,232.5 330.2,231.0 335.0,230.2 C339.8,229.4 345.7,228.5 350.0,227.9 C354.3,227.4 357.9,227.1 362.0,226.8 C366.1,226.4 372.1,226.4 375.5,226.0 C378.9,225.6 380.4,224.8 383.0,224.2 C385.6,223.6 387.7,222.9 392.0,222.2 C396.3,221.6 404.7,220.5 410.0,220.0 C415.3,219.5 420.2,219.4 425.0,218.9 C429.8,218.5 435.4,217.9 440.0,217.3 C444.6,216.7 450.6,215.4 453.5,215.2 C456.4,215.0 456.2,215.3 458.0,215.8 C459.8,216.3 463.7,217.8 464.8,218.2" fill="none" stroke="#5d7a97" stroke-width="1.1" stroke-linejoin="round" stroke-linecap="round"/><defs><linearGradient id="ag2" gradientUnits="userSpaceOnUse" x1="0" y1="210.2" x2="0" y2="256"><stop offset="0" stop-color="#ebedef"/><stop offset="0.55" stop-color="#ebedef"/><stop offset="1" stop-color="#f6f7f8"/></linearGradient></defs><path d="M487.8,234.2 C489.0,234.1 492.9,233.3 495.0,233.2 C497.1,233.1 497.4,233.2 501.0,233.5 C504.6,233.8 509.3,234.6 517.5,235.0 C525.7,235.4 545.5,235.5 552.0,235.8 C558.5,236.0 555.1,236.3 558.0,236.5 C560.9,236.7 565.7,236.9 570.0,236.9 C574.3,237.0 579.0,236.9 585.0,236.8 C591.0,236.7 600.3,236.4 607.5,236.5 C614.7,236.6 624.0,237.1 630.0,237.6 C636.0,238.0 640.4,238.6 645.0,239.1 C649.6,239.5 654.6,239.8 659.0,240.2 C663.4,240.7 667.9,241.5 672.5,242.1 C677.1,242.6 681.5,243.2 687.5,243.7 C693.5,244.2 702.8,244.8 710.0,245.2 C717.2,245.6 726.5,245.9 732.5,246.2 C738.5,246.6 742.7,246.8 747.5,247.3 C752.3,247.8 757.7,248.9 762.5,249.6 C767.3,250.2 772.7,250.9 777.5,251.2 C782.3,251.5 787.7,251.5 792.5,251.5 C797.3,251.5 803.9,251.1 807.5,251.2 C811.1,251.3 812.2,251.6 815.0,251.9 C817.8,252.3 823.2,253.1 824.8,253.3 L824.8,210.2 L487.8,210.2 Z" fill="url(#ag2)"/><path d="M487.8,234.2 C489.0,234.1 492.9,233.3 495.0,233.2 C497.1,233.1 497.4,233.2 501.0,233.5 C504.6,233.8 509.3,234.6 517.5,235.0 C525.7,235.4 545.5,235.5 552.0,235.8 C558.5,236.0 555.1,236.3 558.0,236.5 C560.9,236.7 565.7,236.9 570.0,236.9 C574.3,237.0 579.0,236.9 585.0,236.8 C591.0,236.7 600.3,236.4 607.5,236.5 C614.7,236.6 624.0,237.1 630.0,237.6 C636.0,238.0 640.4,238.6 645.0,239.1 C649.6,239.5 654.6,239.8 659.0,240.2 C663.4,240.7 667.9,241.5 672.5,242.1 C677.1,242.6 681.5,243.2 687.5,243.7 C693.5,244.2 702.8,244.8 710.0,245.2 C717.2,245.6 726.5,245.9 732.5,246.2 C738.5,246.6 742.7,246.8 747.5,247.3 C752.3,247.8 757.7,248.9 762.5,249.6 C767.3,250.2 772.7,250.9 777.5,251.2 C782.3,251.5 787.7,251.5 792.5,251.5 C797.3,251.5 803.9,251.1 807.5,251.2 C811.1,251.3 812.2,251.6 815.0,251.9 C817.8,252.3 823.2,253.1 824.8,253.3" fill="none" stroke="#5d7a97" stroke-width="1.1" stroke-linejoin="round" stroke-linecap="round"/><defs><linearGradient id="ag3" gradientUnits="userSpaceOnUse" x1="0" y1="223.9" x2="0" y2="258"><stop offset="0" stop-color="#ebedef"/><stop offset="0.55" stop-color="#ebedef"/><stop offset="1" stop-color="#f6f7f8"/></linearGradient></defs><path d="M847.3,247.2 C847.8,245.8 849.3,240.3 850.2,238.4 C851.1,236.5 851.7,235.1 853.1,235.2 C854.5,235.3 857.4,237.2 859.0,239.1 C860.6,241.0 862.0,244.0 863.3,247.2 C864.6,250.4 865.9,256.5 867.0,258.8 C868.1,261.1 868.9,261.9 869.9,261.5 C870.9,261.1 872.0,258.9 873.5,256.6 C875.0,254.3 877.8,249.1 879.4,247.2 C881.0,245.3 882.4,245.1 883.8,245.0 C885.2,244.9 886.7,245.6 888.1,246.4 C889.5,247.2 891.1,249.4 892.5,249.8 C893.9,250.2 895.7,248.9 896.9,249.1 C898.1,249.3 898.8,250.2 899.8,250.8 C900.8,251.4 902.1,253.0 903.4,252.7 C904.7,252.4 906.3,250.0 907.8,248.9 C909.3,247.8 911.0,247.2 912.9,245.7 C914.8,244.2 917.7,240.1 919.5,239.4 C921.3,238.7 922.6,240.7 923.9,241.3 C925.2,241.9 926.0,243.4 927.5,243.1 C929.0,242.8 931.7,240.1 933.3,239.6 C934.9,239.1 935.8,239.0 937.7,239.9 C939.6,240.8 942.7,243.4 945.0,245.0 C947.3,246.6 950.2,249.1 952.3,250.1 C954.4,251.1 956.2,251.7 958.1,251.3 C960.0,250.9 962.2,249.0 964.0,247.9 C965.8,246.8 967.7,244.9 969.1,244.3 C970.5,243.7 971.5,242.6 972.7,244.0 C973.9,245.4 975.3,250.6 976.4,253.0 C977.5,255.4 978.4,258.4 979.3,258.8 C980.2,259.2 981.3,256.6 982.2,255.2 C983.1,253.8 984.0,250.4 985.1,249.8 C986.2,249.2 987.7,251.0 988.8,251.3 C989.9,251.6 990.4,252.3 991.7,251.8 C993.0,251.3 995.5,248.9 996.8,248.3 C998.1,247.7 998.4,247.5 999.7,248.2 C1001.0,248.9 1004.0,252.0 1004.8,252.7 L1004.8,223.9 L847.3,223.9 Z" fill="url(#ag3)"/><path d="M847.3,247.2 C847.8,245.8 849.3,240.3 850.2,238.4 C851.1,236.5 851.7,235.1 853.1,235.2 C854.5,235.3 857.4,237.2 859.0,239.1 C860.6,241.0 862.0,244.0 863.3,247.2 C864.6,250.4 865.9,256.5 867.0,258.8 C868.1,261.1 868.9,261.9 869.9,261.5 C870.9,261.1 872.0,258.9 873.5,256.6 C875.0,254.3 877.8,249.1 879.4,247.2 C881.0,245.3 882.4,245.1 883.8,245.0 C885.2,244.9 886.7,245.6 888.1,246.4 C889.5,247.2 891.1,249.4 892.5,249.8 C893.9,250.2 895.7,248.9 896.9,249.1 C898.1,249.3 898.8,250.2 899.8,250.8 C900.8,251.4 902.1,253.0 903.4,252.7 C904.7,252.4 906.3,250.0 907.8,248.9 C909.3,247.8 911.0,247.2 912.9,245.7 C914.8,244.2 917.7,240.1 919.5,239.4 C921.3,238.7 922.6,240.7 923.9,241.3 C925.2,241.9 926.0,243.4 927.5,243.1 C929.0,242.8 931.7,240.1 933.3,239.6 C934.9,239.1 935.8,239.0 937.7,239.9 C939.6,240.8 942.7,243.4 945.0,245.0 C947.3,246.6 950.2,249.1 952.3,250.1 C954.4,251.1 956.2,251.7 958.1,251.3 C960.0,250.9 962.2,249.0 964.0,247.9 C965.8,246.8 967.7,244.9 969.1,244.3 C970.5,243.7 971.5,242.6 972.7,244.0 C973.9,245.4 975.3,250.6 976.4,253.0 C977.5,255.4 978.4,258.4 979.3,258.8 C980.2,259.2 981.3,256.6 982.2,255.2 C983.1,253.8 984.0,250.4 985.1,249.8 C986.2,249.2 987.7,251.0 988.8,251.3 C989.9,251.6 990.4,252.3 991.7,251.8 C993.0,251.3 995.5,248.9 996.8,248.3 C998.1,247.7 998.4,247.5 999.7,248.2 C1001.0,248.9 1004.0,252.0 1004.8,252.7" fill="none" stroke="#6e88a3" stroke-width="1.25" stroke-linejoin="round" stroke-linecap="round"/><defs><linearGradient id="ag4" gradientUnits="userSpaceOnUse" x1="0" y1="223.9" x2="0" y2="258"><stop offset="0" stop-color="#ebedef"/><stop offset="0.55" stop-color="#ebedef"/><stop offset="1" stop-color="#f6f7f8"/></linearGradient></defs><path d="M1027.3,246.9 C1027.7,245.4 1028.6,239.8 1029.5,237.7 C1030.4,235.6 1031.7,233.6 1033.1,233.8 C1034.5,234.0 1036.6,237.0 1038.2,239.1 C1039.8,241.2 1041.7,244.5 1043.3,247.2 C1044.9,249.9 1047.1,254.9 1048.4,256.2 C1049.7,257.5 1050.1,256.6 1051.4,255.6 C1052.7,254.6 1054.8,252.0 1056.5,250.1 C1058.2,248.2 1060.7,244.6 1062.3,243.5 C1063.9,242.4 1065.1,242.4 1066.7,243.1 C1068.3,243.8 1070.6,246.5 1072.5,247.9 C1074.4,249.3 1076.8,250.8 1078.3,251.8 C1079.8,252.8 1080.7,254.3 1082.0,254.0 C1083.3,253.7 1085.2,250.6 1086.4,249.8 C1087.6,249.0 1088.4,249.1 1089.3,248.9 C1090.2,248.7 1091.2,249.0 1092.2,248.3 C1093.2,247.6 1094.6,245.1 1095.8,244.3 C1097.0,243.5 1098.2,242.3 1099.5,243.1 C1100.8,243.9 1102.6,247.8 1103.9,249.4 C1105.2,251.0 1106.3,252.8 1107.5,253.0 C1108.7,253.2 1109.7,251.9 1111.1,250.4 C1112.5,248.9 1114.8,244.8 1116.3,243.5 C1117.8,242.2 1119.0,242.3 1120.6,242.5 C1122.2,242.7 1124.6,244.0 1126.5,245.0 C1128.4,246.0 1130.6,248.0 1132.3,248.9 C1134.0,249.8 1135.5,250.8 1137.4,250.8 C1139.3,250.8 1142.1,249.2 1144.0,248.6 C1145.9,248.0 1147.7,247.1 1149.1,247.2 C1150.5,247.3 1151.5,247.8 1152.7,249.4 C1153.9,251.0 1155.5,255.7 1156.4,257.4 C1157.3,259.1 1157.7,260.4 1158.5,260.3 C1159.3,260.2 1160.6,258.0 1161.5,256.6 C1162.4,255.2 1163.6,252.0 1164.4,251.3 C1165.2,250.6 1165.7,251.7 1166.6,252.3 C1167.5,252.9 1168.9,255.1 1170.2,255.2 C1171.5,255.3 1173.2,253.4 1174.6,253.0 C1176.0,252.6 1177.5,252.7 1179.0,252.6 C1180.5,252.5 1183.3,252.3 1184.1,252.3 L1184.1,223.9 L1027.3,223.9 Z" fill="url(#ag4)"/><path d="M1027.3,246.9 C1027.7,245.4 1028.6,239.8 1029.5,237.7 C1030.4,235.6 1031.7,233.6 1033.1,233.8 C1034.5,234.0 1036.6,237.0 1038.2,239.1 C1039.8,241.2 1041.7,244.5 1043.3,247.2 C1044.9,249.9 1047.1,254.9 1048.4,256.2 C1049.7,257.5 1050.1,256.6 1051.4,255.6 C1052.7,254.6 1054.8,252.0 1056.5,250.1 C1058.2,248.2 1060.7,244.6 1062.3,243.5 C1063.9,242.4 1065.1,242.4 1066.7,243.1 C1068.3,243.8 1070.6,246.5 1072.5,247.9 C1074.4,249.3 1076.8,250.8 1078.3,251.8 C1079.8,252.8 1080.7,254.3 1082.0,254.0 C1083.3,253.7 1085.2,250.6 1086.4,249.8 C1087.6,249.0 1088.4,249.1 1089.3,248.9 C1090.2,248.7 1091.2,249.0 1092.2,248.3 C1093.2,247.6 1094.6,245.1 1095.8,244.3 C1097.0,243.5 1098.2,242.3 1099.5,243.1 C1100.8,243.9 1102.6,247.8 1103.9,249.4 C1105.2,251.0 1106.3,252.8 1107.5,253.0 C1108.7,253.2 1109.7,251.9 1111.1,250.4 C1112.5,248.9 1114.8,244.8 1116.3,243.5 C1117.8,242.2 1119.0,242.3 1120.6,242.5 C1122.2,242.7 1124.6,244.0 1126.5,245.0 C1128.4,246.0 1130.6,248.0 1132.3,248.9 C1134.0,249.8 1135.5,250.8 1137.4,250.8 C1139.3,250.8 1142.1,249.2 1144.0,248.6 C1145.9,248.0 1147.7,247.1 1149.1,247.2 C1150.5,247.3 1151.5,247.8 1152.7,249.4 C1153.9,251.0 1155.5,255.7 1156.4,257.4 C1157.3,259.1 1157.7,260.4 1158.5,260.3 C1159.3,260.2 1160.6,258.0 1161.5,256.6 C1162.4,255.2 1163.6,252.0 1164.4,251.3 C1165.2,250.6 1165.7,251.7 1166.6,252.3 C1167.5,252.9 1168.9,255.1 1170.2,255.2 C1171.5,255.3 1173.2,253.4 1174.6,253.0 C1176.0,252.6 1177.5,252.7 1179.0,252.6 C1180.5,252.5 1183.3,252.3 1184.1,252.3" fill="none" stroke="#6e88a3" stroke-width="1.25" stroke-linejoin="round" stroke-linecap="round"/><path d="M128,287.4 H464.6 M488,287.4 H824.6 M847,293.2 H1005.1 M1027,293.2 H1184" stroke="#e4e7ea" stroke-width="0.7"/><path d="M460.50,201.20 L461.80,199.60 L463.10,201.20" fill="none" stroke="#2f8f22" stroke-width="0.6" stroke-linecap="round" stroke-linejoin="round"/><path d="M819.60,199.80 L821.00,201.40 L822.40,199.80" fill="none" stroke="#c43c3c" stroke-width="0.6" stroke-linecap="round" stroke-linejoin="round"/><path d="M1000.40,213.40 L1001.60,214.60 L1002.80,213.40" fill="none" stroke="#c43c3c" stroke-width="0.6" stroke-linecap="round" stroke-linejoin="round"/><path d="M1180.40,213.40 L1181.60,214.60 L1182.80,213.40" fill="none" stroke="#c43c3c" stroke-width="0.6" stroke-linecap="round" stroke-linejoin="round"/><rect x="122.0" y="324.2" width="169.60" height="58.90" fill="#f4f5f6" stroke="#f9fafa" stroke-width="0.8"/><rect x="302.4" y="324.2" width="168.90" height="58.90" fill="#f4f5f6" stroke="#f9fafa" stroke-width="0.8"/><rect x="481.7" y="324.2" width="348.80" height="58.90" fill="#f4f5f6" stroke="#f9fafa" stroke-width="0.8"/><rect x="841.3" y="324.2" width="169.30" height="58.90" fill="#f4f5f6" stroke="#f9fafa" stroke-width="0.8"/><rect x="1021.4" y="324.2" width="169.10" height="58.90" fill="#f4f5f6" stroke="#f9fafa" stroke-width="0.8"/><path d="M700.7,358.7 C705.2,358.8 723.0,358.8 729.0,359.3 C735.0,359.8 735.8,360.8 738.3,361.8 C740.8,362.8 741.9,364.7 744.4,365.5 C746.9,366.3 750.7,366.3 753.7,367.0 C756.7,367.7 760.3,369.6 763.0,370.1 C765.7,370.6 768.2,370.7 770.7,370.1 C773.2,369.5 776.2,367.2 778.4,366.4 C780.6,365.6 782.5,364.2 784.5,364.9 C786.5,365.6 787.7,369.9 790.7,371.0 C793.7,372.1 799.5,371.5 803.0,371.7 C806.5,371.9 809.3,372.8 812.3,372.3 C815.3,371.8 819.0,369.1 821.5,368.6 C824.0,368.1 826.7,369.1 827.7,369.2" fill="none" stroke="#6a87a3" stroke-width="0.6"/><circle cx="650.4" cy="334" r="2.3" fill="#4472b4"/><path d="M650.4,333.6 v1.6" stroke="#fff" stroke-width="0.7"/><circle cx="650.4" cy="332.7" r="0.4" fill="#fff"/><path d="M819.40,333.20 L820.60,334.40 L821.80,333.20" fill="none" stroke="#c43c3c" stroke-width="0.6" stroke-linecap="round" stroke-linejoin="round"/><path d="M122.6,402.9 H1191" stroke="#e3e6e9" stroke-width="0.9"/><path d="M0,497.8 H1200" stroke="#e6e8ea" stroke-width="0.8"/><path d="M758.2,416 V478" stroke="#f0f1f3" stroke-width="0.7"/><rect x="464.2" y="454.5" width="40.80" height="17.50" fill="#4a80c0" /><rect x="892.2" y="454.2" width="78.20" height="17.50" fill="#4a80c0" /></svg>
<div id="tx">
<span class="t" style="left:352.3px;top:9px;font-size:6.4px;line-height:12px;color:#1a1a1a;letter-spacing:-0.134px;transform:scaleX(0.954);">DOMAINE RACINE</span>
<span class="t" style="left:441.9px;top:9px;font-size:6.4px;line-height:12px;color:#1a1a1a;letter-spacing:-0.377px;transform:scaleX(0.898);">FRESH</span>
<span class="t" style="left:484.6px;top:9px;font-size:6.4px;line-height:12px;color:#fff;letter-spacing:-0.116px;transform:scaleX(0.961);">HISTORIQUE</span>
<span class="t" style="left:1058.7px;top:9px;font-size:7.2px;line-height:12px;color:#fff;font-weight:700;letter-spacing:-0.143px;transform:scaleX(0.946);">Compte gratuit</span>
<span class="t" style="left:1120.0px;top:8px;font-size:7px;line-height:12px;color:#ecc85a;letter-spacing:-0.118px;transform:scaleX(0.948);">Tarifs</span>
<span class="t" style="left:1146.0px;top:8px;font-size:7px;line-height:12px;color:#fff;font-weight:700;letter-spacing:-0.322px;transform:scaleX(0.900);">Login</span>
<span class="t" style="left:10.0px;top:14px;font-size:9.8px;line-height:12px;color:#fff;font-weight:700;letter-spacing:-0.716px;transform:scaleX(0.860);">MAJESTIC</span>
<span class="t" style="left:49.5px;top:16px;font-size:3.6px;line-height:12px;color:#7fa3c4;font-weight:700;letter-spacing:0.337px;transform:scaleX(1.140);">BETA</span>
<span class="t" style="left:9.9px;top:40px;font-size:6.6px;line-height:12px;color:#222;font-weight:700;">DÉMARRER</span>
<span class="t" style="left:9.9px;top:55px;font-size:6.5px;line-height:12px;color:#303030;letter-spacing:0.059px;transform:scaleX(1.022);">Login</span>
<span class="t" style="left:9.9px;top:70px;font-size:6.5px;line-height:12px;color:#303030;letter-spacing:0.076px;transform:scaleX(1.037);">Tarifs</span>
<span class="t" style="left:12.6px;top:85px;font-size:7.2px;line-height:12px;color:#fff;font-weight:700;letter-spacing:-0.104px;transform:scaleX(0.961);">Compte gratuit</span>
<span class="t" style="left:9.9px;top:114px;font-size:6.6px;line-height:12px;color:#222;font-weight:700;letter-spacing:0.150px;transform:scaleX(1.047);">OUTILS</span>
<span class="t" style="left:9.9px;top:128px;font-size:6.5px;line-height:12px;color:#303030;letter-spacing:0.032px;transform:scaleX(1.016);">Site Explorer</span>
<span class="t" style="left:19.9px;top:143px;font-size:6.6px;line-height:12px;color:#fff;font-weight:700;letter-spacing:-0.009px;transform:scaleX(0.996);">Récapitulatif</span>
<span class="t" style="left:19.5px;top:158px;font-size:6.5px;line-height:12px;color:#303030;letter-spacing:0.087px;transform:scaleX(1.039);">Domaines référents</span>
<span class="t" style="left:29.6px;top:172px;font-size:6.4px;line-height:12px;color:#303030;letter-spacing:0.075px;transform:scaleX(1.029);">Carte</span>
<span class="t" style="left:19.4px;top:188px;font-size:6.5px;line-height:12px;color:#303030;letter-spacing:0.075px;transform:scaleX(1.033);">Backlinks</span>
<span class="t" style="left:29.6px;top:202px;font-size:6.4px;line-height:12px;color:#303030;letter-spacing:0.091px;transform:scaleX(1.033);">Nouveaux</span>
<span class="t" style="left:29.6px;top:218px;font-size:6.4px;line-height:12px;color:#303030;letter-spacing:0.039px;transform:scaleX(1.016);">Disparus</span>
<span class="t" style="left:19.4px;top:232px;font-size:6.5px;line-height:12px;color:#303030;letter-spacing:0.088px;transform:scaleX(1.036);">Contexte</span>
<span class="t" style="left:19.4px;top:247px;font-size:6.5px;line-height:12px;color:#303030;letter-spacing:0.116px;transform:scaleX(1.065);">Intitulé de lien</span>
<span class="t" style="left:19.4px;top:262px;font-size:6.5px;line-height:12px;color:#303030;letter-spacing:-0.106px;transform:scaleX(0.966);">Pages</span>
<span class="t" style="left:19.4px;top:276px;font-size:6.5px;line-height:12px;color:#303030;letter-spacing:0.134px;transform:scaleX(1.056);">Sujets</span>
<span class="t" style="left:19.4px;top:291px;font-size:6.5px;line-height:12px;color:#303030;letter-spacing:0.100px;transform:scaleX(1.043);">Link Graph</span>
<span class="t" style="left:56.2px;top:289px;font-size:3.4px;line-height:12px;color:#fff;font-weight:700;letter-spacing:0.170px;transform:scaleX(1.113);">METTRE À JOUR</span>
<span class="t" style="left:19.4px;top:306px;font-size:6.5px;line-height:12px;color:#303030;letter-spacing:0.069px;transform:scaleX(1.036);">Sites liés</span>
<span class="t" style="left:19.4px;top:321px;font-size:6.5px;line-height:12px;color:#303030;letter-spacing:0.052px;transform:scaleX(1.024);">Outils Avancés</span>
<span class="t" style="left:9.8px;top:336px;font-size:6.5px;line-height:12px;color:#303030;letter-spacing:0.073px;transform:scaleX(1.027);">Comparer</span>
<span class="t" style="left:9.8px;top:350px;font-size:6.5px;line-height:12px;color:#303030;letter-spacing:0.075px;transform:scaleX(1.035);">Bulk Backlinks</span>
<span class="t" style="left:9.8px;top:365px;font-size:6.5px;line-height:12px;color:#303030;letter-spacing:0.034px;transform:scaleX(1.015);">Mots-clés</span>
<span class="t" style="left:9.8px;top:380px;font-size:6.5px;line-height:12px;color:#303030;letter-spacing:0.068px;transform:scaleX(1.029);">Neighbourhood Checker</span>
<span class="t" style="left:9.8px;top:395px;font-size:6.5px;line-height:12px;color:#303030;letter-spacing:0.088px;transform:scaleX(1.038);">Expérimental</span>
<span class="t" style="left:9.8px;top:410px;font-size:6.5px;line-height:12px;color:#303030;letter-spacing:0.027px;transform:scaleX(1.011);">Envoyer des URL</span>
<span class="t" style="left:9.8px;top:425px;font-size:6.5px;line-height:12px;color:#303030;letter-spacing:0.062px;transform:scaleX(1.029);">Rapports personnalisés</span>
<span class="t" style="left:9.8px;top:439px;font-size:6.5px;line-height:12px;color:#303030;letter-spacing:0.064px;transform:scaleX(1.033);">Majestic Million</span>
<span class="t" style="left:9.8px;top:454px;font-size:6.5px;line-height:12px;color:#303030;letter-spacing:0.084px;transform:scaleX(1.041);">Modules d&#x27;extension Majestic</span>
<span class="t" style="left:9.8px;top:478px;font-size:6.5px;line-height:12px;color:#303030;letter-spacing:0.034px;transform:scaleX(1.014);">Assistance</span>
<span class="t" style="left:122.3px;top:42px;font-size:14.4px;line-height:12px;color:#37962a;letter-spacing:-0.209px;transform:scaleX(0.948);">Site officiel du</span>
<span class="t" style="left:1146.0px;top:43px;font-size:6.4px;line-height:12px;color:#2a2a2a;letter-spacing:0.187px;transform:scaleX(1.060);">ACTIONS</span>
<span class="t" style="left:135.2px;top:70px;font-size:6.5px;line-height:12px;color:#333;letter-spacing:-0.083px;transform:scaleX(0.974);">TRUST FLOW</span>
<span class="t" style="left:162.0px;top:124px;font-size:18.4px;line-height:12px;color:#000;letter-spacing:0.132px;transform:scaleX(1.010);-webkit-text-stroke:0.35px #000;">57</span>
<span class="t" style="left:340.5px;top:70px;font-size:6.5px;line-height:12px;color:#333;letter-spacing:-0.058px;transform:scaleX(0.979);">TRUST FLOW PAR SUJET</span>
<span class="t" style="left:419.5px;top:124px;font-size:8.8px;line-height:12px;color:#262626;letter-spacing:0.029px;transform:scaleX(1.010);">Disponible pour les abonnés</span>
<span class="t" style="left:670.7px;top:70px;font-size:6.5px;line-height:12px;color:#333;letter-spacing:0.012px;transform:scaleX(1.004);">CITATION FLOW</span>
<span class="t" style="left:701.3px;top:125px;font-size:18.4px;line-height:12px;color:#000;letter-spacing:0.752px;transform:scaleX(1.056);-webkit-text-stroke:0.35px #000;">40</span>
<span class="t" style="left:854.8px;top:70px;font-size:6.5px;line-height:12px;color:#333;letter-spacing:-0.053px;transform:scaleX(0.982);">LINK GRAPH</span>
<span class="t" style="left:924.5px;top:70px;font-size:5.4px;line-height:12px;color:#999;opacity:0.7;letter-spacing:-0.053px;transform:scaleX(0.976);">plus</span>
<span class="t" style="left:852.0px;top:115px;font-size:8.8px;line-height:12px;color:#262626;letter-spacing:0.048px;transform:scaleX(1.017);">Disponible pour les</span>
<span class="t" style="left:874.0px;top:131px;font-size:8.8px;line-height:12px;color:#262626;letter-spacing:-0.018px;transform:scaleX(0.995);">abonnés</span>
<span class="t" style="left:1029.8px;top:70px;font-size:6.5px;line-height:12px;color:#333;letter-spacing:0.026px;transform:scaleX(1.010);">LINK PROFILE</span>
<span class="t" style="left:1101.5px;top:70px;font-size:5.4px;line-height:12px;color:#999;opacity:0.7;letter-spacing:0.041px;transform:scaleX(1.019);">plus</span>
<span class="t" style="left:1030.4px;top:115px;font-size:8.8px;line-height:12px;color:#262626;letter-spacing:0.043px;transform:scaleX(1.016);">Disponible pour les</span>
<span class="t" style="left:1052.0px;top:131px;font-size:8.8px;line-height:12px;color:#262626;letter-spacing:-0.018px;transform:scaleX(0.995);">abonnés</span>
<span class="t" style="left:328.5px;top:95px;font-size:5.6px;line-height:12px;color:#c6cace;opacity:0.55;letter-spacing:0.176px;transform:scaleX(1.110);">Arts / Television</span>
<span class="t" style="left:328.5px;top:113px;font-size:5.6px;line-height:12px;color:#c6cace;opacity:0.55;letter-spacing:0.196px;transform:scaleX(1.111);">Recreation / Autos</span>
<span class="t" style="left:328.5px;top:131px;font-size:5.6px;line-height:12px;color:#c6cace;opacity:0.55;letter-spacing:0.166px;transform:scaleX(1.095);">Science / Social Sciences</span>
<span class="t" style="left:328.5px;top:149px;font-size:5.6px;line-height:12px;color:#c6cace;opacity:0.55;letter-spacing:0.176px;transform:scaleX(1.103);">Recreation / Outdoors / Scouting</span>
<span class="t" style="left:127.9px;top:195px;font-size:6.5px;line-height:12px;color:#333;letter-spacing:0.154px;transform:scaleX(1.057);">LIENS ENTRANTS EXTÉRIEURS</span>
<span class="t" style="left:440.5px;top:195px;font-size:6.4px;line-height:12px;color:#2f8f22;letter-spacing:0.174px;transform:scaleX(1.066);">2 738</span>
<span class="t" style="left:183.4px;top:269px;font-size:6.5px;line-height:12px;color:#2f8f22;letter-spacing:0.105px;transform:scaleX(1.029);">FRESH</span>
<span class="t" style="left:346.5px;top:271px;font-size:10.4px;line-height:12px;color:#222;font-weight:700;letter-spacing:0.303px;transform:scaleX(1.072);">35 538</span>
<span class="t" style="left:173.2px;top:295px;font-size:6.5px;line-height:12px;color:#9a4cab;letter-spacing:0.162px;transform:scaleX(1.055);">HISTORIQUE</span>
<span class="t" style="left:343.5px;top:297px;font-size:10px;line-height:12px;color:#2a2a2a;letter-spacing:0.292px;transform:scaleX(1.074);">583 962</span>
<span class="t" style="left:487.9px;top:195px;font-size:6.5px;line-height:12px;color:#333;letter-spacing:0.128px;transform:scaleX(1.043);">DOMAINES RÉFÉRENTS</span>
<span class="t" style="left:809.2px;top:195px;font-size:6.4px;line-height:12px;color:#c43c3c;letter-spacing:0.269px;transform:scaleX(1.057);">93</span>
<span class="t" style="left:543.4px;top:269px;font-size:6.5px;line-height:12px;color:#2f8f22;letter-spacing:0.105px;transform:scaleX(1.029);">FRESH</span>
<span class="t" style="left:710.0px;top:271px;font-size:10.4px;line-height:12px;color:#222;font-weight:700;letter-spacing:0.223px;transform:scaleX(1.052);">1 686</span>
<span class="t" style="left:533.2px;top:295px;font-size:6.5px;line-height:12px;color:#9a4cab;letter-spacing:0.162px;transform:scaleX(1.055);">HISTORIQUE</span>
<span class="t" style="left:706.5px;top:297px;font-size:10px;line-height:12px;color:#2a2a2a;letter-spacing:0.331px;transform:scaleX(1.082);">12 070</span>
<span class="t" style="left:847.0px;top:195px;font-size:6.5px;line-height:12px;color:#333;letter-spacing:0.126px;transform:scaleX(1.045);">ADRESSES IP RÉFÉRENTES</span>
<span class="t" style="left:993.4px;top:208px;font-size:6.4px;line-height:12px;color:#c43c3c;letter-spacing:0.169px;transform:scaleX(1.072);">7</span>
<span class="t" style="left:867.0px;top:277px;font-size:6.5px;line-height:12px;color:#2f8f22;letter-spacing:0.047px;transform:scaleX(1.013);">FRESH</span>
<span class="t" style="left:937.9px;top:277px;font-size:7.6px;line-height:12px;color:#9a9a9a;letter-spacing:0.203px;transform:scaleX(1.072);">S&#x27;abonner</span>
<span class="t" style="left:856.2px;top:298px;font-size:6.5px;line-height:12px;color:#9a4cab;letter-spacing:0.162px;transform:scaleX(1.055);">HISTORIQUE</span>
<span class="t" style="left:937.9px;top:299px;font-size:7.6px;line-height:12px;color:#9a9a9a;letter-spacing:0.203px;transform:scaleX(1.072);">S&#x27;abonner</span>
<span class="t" style="left:1026.7px;top:195px;font-size:6.5px;line-height:12px;color:#333;letter-spacing:0.121px;transform:scaleX(1.041);">SOUS-RÉSEAUX RÉFÉRENTS</span>
<span class="t" style="left:1173.8px;top:208px;font-size:6.4px;line-height:12px;color:#c43c3c;letter-spacing:0.169px;transform:scaleX(1.072);">6</span>
<span class="t" style="left:1046.8px;top:277px;font-size:6.5px;line-height:12px;color:#2f8f22;letter-spacing:0.076px;transform:scaleX(1.021);">FRESH</span>
<span class="t" style="left:1117.7px;top:277px;font-size:7.6px;line-height:12px;color:#9a9a9a;letter-spacing:0.199px;transform:scaleX(1.070);">S&#x27;abonner</span>
<span class="t" style="left:1035.7px;top:298px;font-size:6.5px;line-height:12px;color:#9a4cab;letter-spacing:0.188px;transform:scaleX(1.063);">HISTORIQUE</span>
<span class="t" style="left:1117.7px;top:299px;font-size:7.6px;line-height:12px;color:#9a9a9a;letter-spacing:0.199px;transform:scaleX(1.070);">S&#x27;abonner</span>
<span class="t" style="left:194.0px;top:330px;font-size:6.5px;line-height:12px;color:#2f8f22;letter-spacing:0.147px;transform:scaleX(1.048);">ACTIFS</span>
<span class="t" style="left:190.9px;top:350px;font-size:10px;line-height:12px;color:#1c1c1c;letter-spacing:0.064px;transform:scaleX(1.016);">33 901</span>
<span class="t" style="left:167.7px;top:365px;font-size:6.6px;line-height:12px;color:#333;letter-spacing:0.076px;transform:scaleX(1.037);">Liens Entrants Extérieurs</span>
<span class="t" style="left:370.5px;top:330px;font-size:6.5px;line-height:12px;color:#c43c3c;letter-spacing:0.100px;transform:scaleX(1.030);">DELETED</span>
<span class="t" style="left:373.5px;top:350px;font-size:10px;line-height:12px;color:#1c1c1c;letter-spacing:0.144px;transform:scaleX(1.035);">1 637</span>
<span class="t" style="left:347.7px;top:365px;font-size:6.6px;line-height:12px;color:#333;letter-spacing:0.076px;transform:scaleX(1.037);">Liens Entrants Extérieurs</span>
<span class="t" style="left:528.6px;top:330px;font-size:6.5px;line-height:12px;color:#333;letter-spacing:0.167px;transform:scaleX(1.063);">APRÈS LA RÉDUCTION DU BRUIT</span>
<span class="t" style="left:568.0px;top:349px;font-size:10px;line-height:12px;color:#1c1c1c;letter-spacing:0.027px;transform:scaleX(1.006);">7 300</span>
<span class="t" style="left:597.0px;top:350px;font-size:4.8px;line-height:12px;color:#c43c3c;letter-spacing:0.277px;transform:scaleX(1.140);">(-74%)</span>
<span class="t" style="left:552.6px;top:366px;font-size:6.6px;line-height:12px;color:#333;letter-spacing:0.056px;transform:scaleX(1.028);">Liens Entrants Extérieurs</span>
<span class="t" style="left:806.0px;top:328px;font-size:5px;line-height:12px;color:#c43c3c;letter-spacing:0.303px;transform:scaleX(1.104);">85K</span>
<span class="t" style="left:908.6px;top:330px;font-size:6.5px;line-height:12px;color:#2f8f22;letter-spacing:0.268px;transform:scaleX(1.095);">DISTINCT</span>
<span class="t" style="left:912.6px;top:350px;font-size:10px;line-height:12px;color:#1c1c1c;letter-spacing:0.115px;transform:scaleX(1.028);">4 898</span>
<span class="t" style="left:886.5px;top:365px;font-size:6.6px;line-height:12px;color:#333;letter-spacing:0.082px;transform:scaleX(1.040);">Liens Entrants Extérieurs</span>
<span class="t" style="left:1085.3px;top:330px;font-size:6.5px;line-height:12px;color:#e59a5c;letter-spacing:0.106px;transform:scaleX(1.034);">DUPLIQUER</span>
<span class="t" style="left:1089.5px;top:350px;font-size:10px;line-height:12px;color:#1c1c1c;letter-spacing:0.111px;transform:scaleX(1.027);">30 492</span>
<span class="t" style="left:1066.5px;top:365px;font-size:6.6px;line-height:12px;color:#333;letter-spacing:0.082px;transform:scaleX(1.040);">Liens Entrants Extérieurs</span>
<span class="t" style="left:291.0px;top:425px;font-size:6.6px;line-height:12px;color:#222;letter-spacing:0.062px;transform:scaleX(1.031);">Les abonnés obtiennent les Domaines Référents, les IPs et les Classes C des liens pour n&#x27;importe quel site web. Les comptes</span>
<span class="t" style="left:404.0px;top:438px;font-size:6.6px;line-height:12px;color:#555;letter-spacing:0.076px;transform:scaleX(1.038);">Pro et supérieurs donnent accès à l&#x27;index historique</span>
<span class="t" style="left:476.8px;top:458px;font-size:6.6px;line-height:12px;color:#fff;font-weight:700;letter-spacing:-0.146px;transform:scaleX(0.938);">Tarifs</span>
<span class="t" style="left:812.8px;top:425px;font-size:6.6px;line-height:12px;color:#222;letter-spacing:0.079px;transform:scaleX(1.040);">Feeling lost? Click here to find out more about how Site Explorer works, and</span>
<span class="t" style="left:878.0px;top:438px;font-size:6.6px;line-height:12px;color:#555;letter-spacing:0.090px;transform:scaleX(1.045);">see a breakdown of all of the tabs</span>
<span class="t" style="left:904.5px;top:458px;font-size:6.6px;line-height:12px;color:#fff;font-weight:700;">More Information</span>
</div>
</body></html>
